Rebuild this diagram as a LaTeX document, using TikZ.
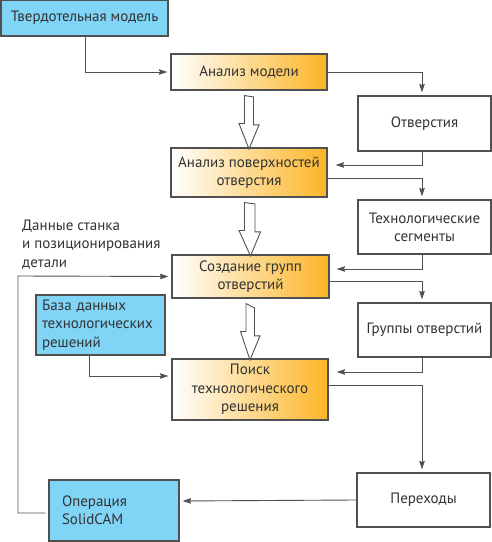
\documentclass[tikz,border=0pt]{standalone}
\usepackage{fontspec}
\setmainfont{PT Sans}
\usepackage{tikz}
\usetikzlibrary{arrows,arrows.meta,positioning,shapes}
\definecolor{skyblue}{RGB}{128,212,246}
\definecolor{amber}{RGB}{251,181,38}
\definecolor{ink}{RGB}{50,50,50}
\definecolor{rim}{RGB}{80,80,80}

\begin{document}
\begin{tikzpicture}[x=1pt,y=1pt,font=\fontsize{15}{18.3}\selectfont,text=ink]
\tikzstyle{inbox}=[draw=rim,line width=1.1pt,fill=skyblue,inner sep=0pt]
\tikzstyle{stepbox}=[draw=rim,line width=1.1pt,left color=white,right color=amber,inner sep=0pt,align=center]
\tikzstyle{outbox}=[draw=rim,line width=1.1pt,fill=white,inner sep=0pt,align=center]
\tikzstyle{arrow}=[draw=rim,line width=0.9pt,-{Stealth[length=8.5pt,width=5.5pt,inset=1pt]},shorten >=3pt]
\tikzstyle{hollow}=[draw=rim,line width=0.9pt,fill=white,line join=miter]
\useasboundingbox (0,0) rectangle (492,542);
% left column
\node [inbox,minimum width=167pt,minimum height=36pt] at (84.5,524) (tm) {Твердотельная модель};
\node [inbox,minimum width=129pt,minimum height=60pt,text width=117pt,align=left] at (100.5,217) (bd) {База данных\\технологических\\решений};
\node [inbox,minimum width=130pt,minimum height=61pt,text width=104pt,align=left] at (114,31.5) (op) {Операция\\SolidCAM};
\node [anchor=north west,align=left,inner sep=0pt] at (22,322) (dl) {Данные станка\\и позиционирования\\детали};
% middle column
\node [stepbox,minimum width=156pt,minimum height=36pt] at (249,470) (am) {Анализ модели};
\node [stepbox,minimum width=156pt,minimum height=49pt] at (249,369.5) (ap) {Анализ поверхностей\\отверстия};
\node [stepbox,minimum width=157pt,minimum height=43pt] at (250.5,265.5) (sg) {Создание групп\\отверстий};
\node [stepbox,minimum width=156pt,minimum height=61pt] at (250,152.5) (ps) {Поиск\\технологического\\решения};
% right column
\node [outbox,minimum width=133pt,minimum height=55pt] at (424.5,418.5) (ot) {Отверстия};
\node [outbox,minimum width=133pt,minimum height=54pt] at (424.5,315) (ts) {Технологические\\сегменты};
\node [outbox,minimum width=133pt,minimum height=54pt] at (424.5,212) (go) {Группы отверстий};
\node [outbox,minimum width=133pt,minimum height=54pt] at (423.5,42) (pe) {Переходы};
% connectors
\draw [arrow] ([xshift=0.5pt]tm.south) |- (am.west);
\draw [arrow] (am.east) -| ([xshift=-2.5pt]ot.north);
\draw [arrow] ([xshift=-2.5pt]ot.south) |- ([xshift=5pt,yshift=7.5pt]ap.east);
\draw [arrow] ([yshift=-5.5pt]ap.east) -| ([xshift=-2.5pt]ts.north);
\draw [arrow] ([xshift=-2.5pt]ts.south) |- ([xshift=4pt,yshift=7.5pt]sg.east);
\draw [arrow] ([yshift=-4.5pt]sg.east) -| ([xshift=-2.5pt]go.north);
\draw [arrow] ([xshift=-2.5pt]go.south) |- ([xshift=5pt,yshift=17.5pt]ps.east);
\draw [arrow] ([yshift=4.5pt]ps.east) -| ([xshift=-1.5pt]pe.north);
\draw [arrow] (pe.west) -- ([yshift=9.5pt]op.east);
\draw [arrow] ([xshift=-3pt,yshift=-2.5pt]op.west) -| (18,266) -- (sg.west);
\draw [arrow] ([xshift=-11.5pt]bd.south) |- ([yshift=13.5pt]ps.west);
% hollow arrows
\foreach \a/\b in {am/ap,ap/sg,sg/ps}
  \draw [hollow] ([yshift=-5pt]\a.south) ++(-4.5,0) -- ++(0,-28) -- ++(-5.5,0)
    -- ([yshift=-1.5pt]\b.north) -- ++(10,24) -- ++(-5.5,0) -- ++(0,28) -- cycle;
\end{tikzpicture}
\end{document}
